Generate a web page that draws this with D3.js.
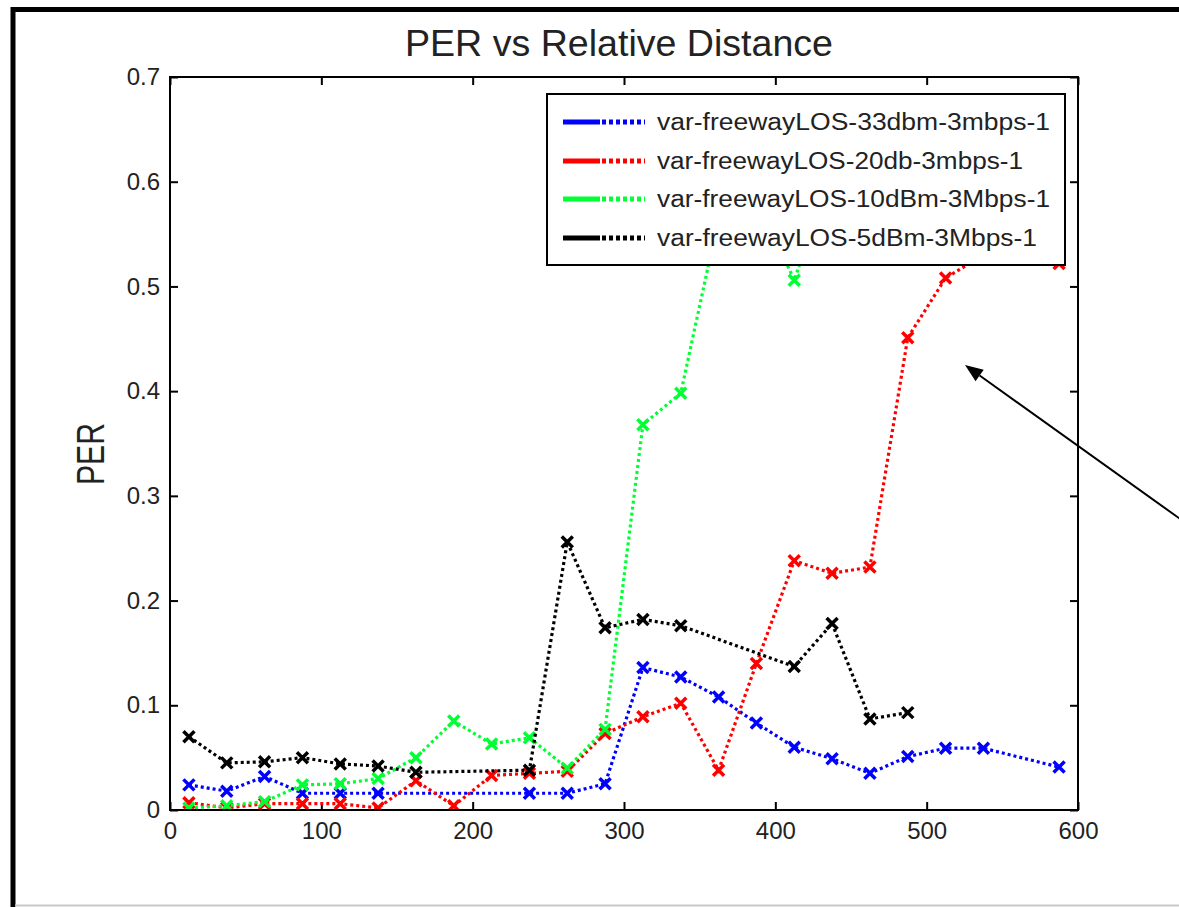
<!DOCTYPE html>
<html>
<head>
<meta charset="utf-8">
<script src="https://cdn.jsdelivr.net/npm/d3@7"></script>
<style>
  body { margin: 0; background: #fff; }
  svg { display: block; font-family: "Liberation Sans", Arial, sans-serif; }
</style>
</head>
<body>
<svg id="chart" width="1179" height="907"></svg>
<script>
// --- data ---
const blueX  = [12.5, 37.5, 62.5, 87.5, 112.5, 137.5, 237.5, 262.5, 287.5, 312.5, 337.5, 362.5, 387.5, 412.5, 437.5, 462.5, 487.5, 512.5, 537.5, 587.5];
const blueY  = [0.024, 0.018, 0.032, 0.016, 0.016, 0.016, 0.016, 0.016, 0.025, 0.136, 0.127, 0.108, 0.083, 0.060, 0.049, 0.035, 0.051, 0.059, 0.059, 0.041];

const redX   = [12.5, 37.5, 62.5, 87.5, 112.5, 137.5, 162.5, 187.5, 212.5, 237.5, 262.5, 287.5, 312.5, 337.5, 362.5, 387.5, 412.5, 437.5, 462.5, 487.5, 512.5, 537.5, 562.5, 587.5];
const redY   = [0.007, 0.002, 0.006, 0.006, 0.006, 0.002, 0.028, 0.004, 0.033, 0.035, 0.037, 0.073, 0.089, 0.102, 0.038, 0.140, 0.238, 0.226, 0.232, 0.451, 0.508, 0.530, 0.550, 0.522];

const greenX = [12.5, 37.5, 62.5, 87.5, 112.5, 137.5, 162.5, 187.5, 212.5, 237.5, 262.5, 287.5, 312.5, 337.5, 362.5, 387.5, 412.5, 437.5];
const greenY = [0.002, 0.004, 0.008, 0.024, 0.025, 0.030, 0.050, 0.085, 0.063, 0.069, 0.040, 0.077, 0.368, 0.398, 0.565, 0.585, 0.506, 0.610];

const blackX = [12.5, 37.5, 62.5, 87.5, 112.5, 137.5, 162.5, 237.5, 262.5, 287.5, 312.5, 337.5, 412.5, 437.5, 462.5, 487.5];
const blackY = [0.070, 0.045, 0.046, 0.050, 0.044, 0.042, 0.036, 0.038, 0.256, 0.174, 0.182, 0.176, 0.137, 0.178, 0.087, 0.093];

const seriesNames = [
  "var-freewayLOS-33dbm-3mbps-1",
  "var-freewayLOS-20db-3mbps-1",
  "var-freewayLOS-10dBm-3Mbps-1",
  "var-freewayLOS-5dBm-3Mbps-1"
];
const seriesColors = ["#0000ff", "#ff0000", "#00ff33", "#000000"];

const xTicks = [0, 100, 200, 300, 400, 500, 600];
const yTicks = [0, 0.1, 0.2, 0.3, 0.4, 0.5, 0.6, 0.7];

const series = [
  { name: seriesNames[0], color: seriesColors[0], pts: blueX.map((x, i) => ({ x, y: blueY[i] })) },
  { name: seriesNames[1], color: seriesColors[1], pts: redX.map((x, i) => ({ x, y: redY[i] })) },
  { name: seriesNames[2], color: seriesColors[2], pts: greenX.map((x, i) => ({ x, y: greenY[i] })) },
  { name: seriesNames[3], color: seriesColors[3], pts: blackX.map((x, i) => ({ x, y: blackY[i] })) }
];

// --- layout ---
const svg = d3.select("#chart");
const plot = { left: 170, right: 1078, top: 77, bottom: 810 };

const xScale = d3.scaleLinear().domain([0, 600]).range([plot.left, plot.right]);
const yScale = d3.scaleLinear().domain([0, 0.7]).range([plot.bottom, plot.top]);

// outer figure frame
svg.append("line").attr("x1", 13).attr("x2", 13).attr("y1", 7).attr("y2", 907)
  .attr("stroke", "#000").attr("stroke-width", 5);
svg.append("line").attr("x1", 11).attr("x2", 1179).attr("y1", 9.5).attr("y2", 9.5)
  .attr("stroke", "#000").attr("stroke-width", 5);
svg.append("line").attr("x1", 15).attr("x2", 1179).attr("y1", 905.5).attr("y2", 905.5)
  .attr("stroke", "#c8c8c8").attr("stroke-width", 2);

// title
svg.append("text")
  .attr("x", 619).attr("y", 56)
  .attr("text-anchor", "middle")
  .attr("textLength", 428)
  .attr("lengthAdjust", "spacingAndGlyphs")
  .style("font-size", "37px")
  .attr("fill", "#222")
  .text("PER vs Relative Distance");

// clip for data
svg.append("clipPath").attr("id", "plotClip")
  .append("rect")
  .attr("x", plot.left).attr("y", plot.top)
  .attr("width", plot.right - plot.left).attr("height", plot.bottom - plot.top);

// axes: bottom / left with labels, top / right ticks only (inward)
const tickLen = 8;
svg.append("g")
  .attr("transform", `translate(0, ${plot.bottom})`)
  .call(d3.axisBottom(xScale).tickValues(xTicks).tickSize(-tickLen).tickPadding(9).tickFormat(d3.format("d")))
  .call(g => g.select(".domain").remove())
  .call(g => g.selectAll("line").attr("stroke", "#000").attr("stroke-width", 2))
  .call(g => g.selectAll("text").style("font-size", "24px").attr("fill", "#222").attr("dy", "0.85em"));

svg.append("g")
  .attr("transform", `translate(${plot.left}, 0)`)
  .call(d3.axisLeft(yScale).tickValues(yTicks).tickSize(-tickLen).tickPadding(10).tickFormat(d => d === 0 ? "0" : d3.format(".1f")(d)))
  .call(g => g.select(".domain").remove())
  .call(g => g.selectAll("line").attr("stroke", "#000").attr("stroke-width", 2))
  .call(g => g.selectAll("text").style("font-size", "24px").attr("fill", "#222"));

svg.append("g")
  .attr("transform", `translate(0, ${plot.top})`)
  .call(d3.axisTop(xScale).tickValues(xTicks).tickSize(-tickLen).tickFormat(""))
  .call(g => g.select(".domain").remove())
  .call(g => g.selectAll("line").attr("stroke", "#000").attr("stroke-width", 2));

svg.append("g")
  .attr("transform", `translate(${plot.right}, 0)`)
  .call(d3.axisRight(yScale).tickValues(yTicks).tickSize(-tickLen).tickFormat(""))
  .call(g => g.select(".domain").remove())
  .call(g => g.selectAll("line").attr("stroke", "#000").attr("stroke-width", 2));

// y label
svg.append("text")
  .attr("transform", `translate(104, 454) rotate(-90)`)
  .attr("text-anchor", "middle")
  .attr("textLength", 62)
  .attr("lengthAdjust", "spacingAndGlyphs")
  .style("font-size", "39px")
  .attr("fill", "#222")
  .text("PER");

// data lines + markers
const lineGen = d3.line().x(d => xScale(d.x)).y(d => yScale(d.y));
const dataG = svg.append("g").attr("clip-path", "url(#plotClip)");

series.forEach(s => {
  dataG.append("path")
    .datum(s.pts)
    .attr("d", lineGen)
    .attr("fill", "none")
    .attr("stroke", s.color)
    .attr("stroke-width", 3.2)
    .attr("stroke-dasharray", "3 3");

  const m = 5.5;
  dataG.selectAll(null)
    .data(s.pts)
    .join("path")
    .attr("d", d => {
      const cx = xScale(d.x), cy = yScale(d.y);
      return `M${cx - m},${cy - m}L${cx + m},${cy + m}M${cx - m},${cy + m}L${cx + m},${cy - m}`;
    })
    .attr("stroke", s.color)
    .attr("stroke-width", 3.5)
    .attr("fill", "none");
});

// plot box
svg.append("rect")
  .attr("x", plot.left).attr("y", plot.top)
  .attr("width", plot.right - plot.left).attr("height", plot.bottom - plot.top)
  .attr("fill", "none").attr("stroke", "#000").attr("stroke-width", 2);

// legend
const legend = svg.append("g");
legend.append("rect")
  .attr("x", 547).attr("y", 94).attr("width", 518).attr("height", 171)
  .attr("fill", "#fff").attr("stroke", "#000").attr("stroke-width", 2);

const legendRows = [122, 161, 199, 238];
const legendTextLen = [393, 366, 393, 380];
series.forEach((s, i) => {
  const y = legendRows[i];
  legend.append("line")
    .attr("x1", 563).attr("x2", 600).attr("y1", y).attr("y2", y)
    .attr("stroke", s.color).attr("stroke-width", 5);
  legend.append("line")
    .attr("x1", 602).attr("x2", 645).attr("y1", y).attr("y2", y)
    .attr("stroke", s.color).attr("stroke-width", 5)
    .attr("stroke-dasharray", "4 3");
  legend.append("text")
    .attr("x", 657).attr("y", y + 8)
    .attr("textLength", legendTextLen[i])
    .attr("lengthAdjust", "spacingAndGlyphs")
    .style("font-size", "23px")
    .attr("fill", "#222")
    .text(s.name);
});

// annotation arrow
const arrowStart = [1190, 526], arrowTip = [965, 365];
const ang = Math.atan2(arrowTip[1] - arrowStart[1], arrowTip[0] - arrowStart[0]);
const headLen = 18, headW = 7;
const bx = arrowTip[0] - headLen * Math.cos(ang), by = arrowTip[1] - headLen * Math.sin(ang);
svg.append("line")
  .attr("x1", arrowStart[0]).attr("y1", arrowStart[1]).attr("x2", bx).attr("y2", by)
  .attr("stroke", "#000").attr("stroke-width", 2);
svg.append("path")
  .attr("d", `M${arrowTip[0]},${arrowTip[1]}` +
    `L${bx + headW * Math.sin(ang)},${by - headW * Math.cos(ang)}` +
    `L${bx - headW * Math.sin(ang)},${by + headW * Math.cos(ang)}Z`)
  .attr("fill", "#000");
</script>
</body>
</html>
